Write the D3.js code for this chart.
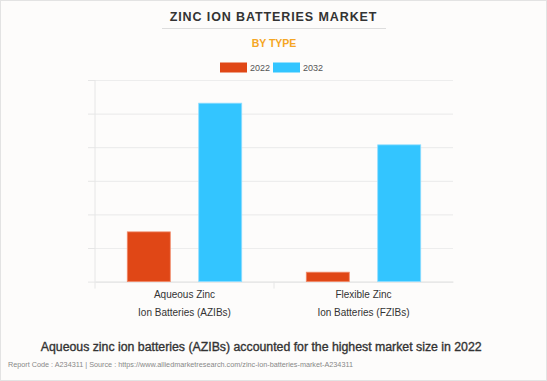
<!DOCTYPE html>
<html><head><meta charset="utf-8">
<script src="https://cdn.jsdelivr.net/npm/d3@7"></script>
<style>
html,body{margin:0;padding:0;background:#fff;}
svg{display:block;}
</style></head>
<body>
<svg id="chart" width="547" height="381"></svg>
<script>
const categories = ["Aqueous Zinc|Ion Batteries (AZIBs)", "Flexible Zinc|Ion Batteries (FZIBs)"];
const seriesNames = ["2022", "2032"];
const values2022 = [1.48, 0.28];
const values2032 = [5.31, 4.07];
const colors = ["#E04716", "#33C5FF"];
const yTicks = [0, 1, 2, 3, 4, 5, 6];

(function(){
const svg = d3.select("#chart");
const W = 547, H = 381;
svg.append("rect").attr("x",0.5).attr("y",0.5).attr("width",W-1).attr("height",H-1)
  .attr("fill","#FDFCFB").attr("stroke","#E3E3E3");

const font = "'Liberation Sans', Arial, sans-serif";
function fit(sel, target, base){
  const len = sel.node().getComputedTextLength();
  if (len > 0) sel.attr("font-size", base * target / len);
  return sel;
}

// Title
const title = svg.append("text").attr("x",273.5).attr("y",21).attr("text-anchor","middle")
  .attr("font-family",font).attr("font-weight","bold").attr("font-size",12.5)
  .attr("letter-spacing",0.9).attr("fill","#333").text("ZINC ION BATTERIES MARKET");
svg.append("line").attr("x1",162).attr("x2",386).attr("y1",28.5).attr("y2",28.5)
  .attr("stroke","#DDD");
svg.append("text").attr("x",274).attr("y",47).attr("text-anchor","middle")
  .attr("font-family",font).attr("font-weight","bold").attr("font-size",10.5)
  .attr("fill","#F5A623").text("BY TYPE");

// Legend
const legend = svg.append("g");
const legX = [220, 273];
seriesNames.forEach((s,i)=>{
  legend.append("rect").attr("x",legX[i]).attr("y",62.5).attr("width",27).attr("height",10)
    .attr("fill",colors[i]);
  legend.append("text").attr("x",legX[i]+30).attr("y",71).attr("font-family",font)
    .attr("font-size",9).attr("fill","#555").text(s);
});

// Plot
const pl = 95, pr = 453, pt = 80, pb = 281.6;
const y = d3.scaleLinear().domain([0,6]).range([pb, pt]);
const x0 = d3.scaleBand().domain(categories).range([pl,pr]).padding(0);
const x1 = d3.scaleBand().domain(seriesNames).range([0,x0.bandwidth()])
  .paddingInner(0.398).paddingOuter(0.452);

// gridlines
const grid = svg.append("g").attr("transform",`translate(${pl},0)`)
  .call(d3.axisLeft(y).tickValues(yTicks).tickSize(-(pr-pl)).tickFormat(""));
grid.select(".domain").remove();
grid.selectAll(".tick line").attr("stroke","#EDEDED").attr("stroke-width",1.2);
// small outer ticks
svg.append("g").attr("transform",`translate(${pl},0)`)
  .call(d3.axisLeft(y).tickValues(yTicks).tickSize(7).tickFormat(""))
  .call(g=>g.select(".domain").remove())
  .selectAll(".tick line").attr("stroke","#E6E6E6");
// y axis line
svg.append("line").attr("x1",pl).attr("x2",pl).attr("y1",pt).attr("y2",pb+7)
  .attr("stroke","#E6E6E6");
// x axis
const xAxis = svg.append("g").attr("transform",`translate(0,${pb})`)
  .call(d3.axisBottom(x0).tickSize(0).tickFormat(""));
xAxis.select(".domain").attr("stroke","#E3E3E3");
svg.append("line").attr("x1",x0(categories[1])).attr("x2",x0(categories[1]))
  .attr("y1",pb).attr("y2",pb+7).attr("stroke","#E6E6E6");

// bars
const data = categories.map((c,i)=>({cat:c, vals:[values2022[i], values2032[i]]}));
const groups = svg.append("g").selectAll("g").data(data).join("g")
  .attr("transform",d=>`translate(${x0(d.cat)},0)`);
groups.selectAll("rect").data(d=>d.vals.map((v,i)=>({s:seriesNames[i], v, i})))
  .join("rect")
  .attr("x",d=>x1(d.s)).attr("width",x1.bandwidth())
  .attr("y",d=>y(d.v)).attr("height",d=>pb-y(d.v))
  .attr("fill",d=>colors[d.i])
  .attr("stroke",d=>d.i===0?"#F08A6A":"#8FDDFF").attr("stroke-width",0.8);

// category labels
categories.forEach(c=>{
  const parts = c.split("|");
  const cx = x0(c) + x0.bandwidth()/2;
  parts.forEach((p,j)=>{
    svg.append("text").attr("x",cx).attr("y",298+j*17.5).attr("text-anchor","middle")
      .attr("font-family",font).attr("font-size",10).attr("fill","#333").text(p);
  });
});

// footer
const foot = svg.append("text").attr("x",261.2).attr("y",351).attr("text-anchor","middle")
  .attr("font-family",font).attr("font-size",13).attr("fill","#333")
  .attr("stroke","#333").attr("stroke-width",0.35)
  .text("Aqueous zinc ion batteries (AZIBs) accounted for the highest market size in 2022");
fit(foot, 441, 13);
const src = svg.append("text").attr("x",8).attr("y",367).attr("font-family",font)
  .attr("font-size",7.6).attr("fill","#888")
  .text("Report Code : A234311  |  Source : https://www.alliedmarketresearch.com/zinc-ion-batteries-market-A234311");
fit(src, 345, 7.6);
})();
</script>
</body></html>
